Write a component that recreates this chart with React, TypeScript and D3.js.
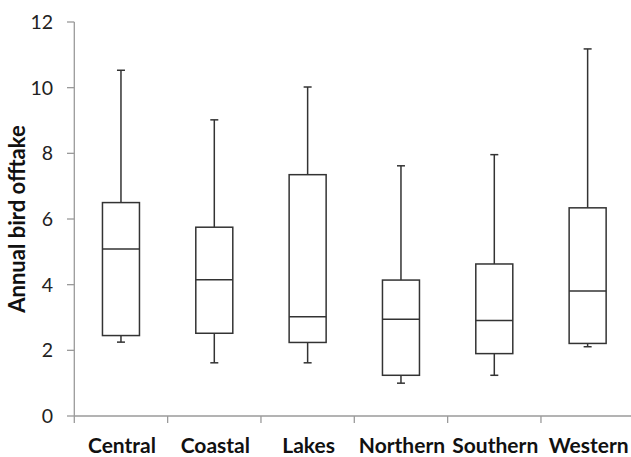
import React from "react";
import * as d3 from "d3";

const categories = ["Central", "Coastal", "Lakes", "Northern", "Southern", "Western"];
const mins = [2.25, 1.62, 1.62, 1.0, 1.24, 2.11];
const q1s = [2.45, 2.52, 2.24, 1.24, 1.9, 2.21];
const medians = [5.09, 4.15, 3.02, 2.95, 2.91, 3.81];
const q3s = [6.5, 5.75, 7.35, 4.14, 4.63, 6.34];
const maxs = [10.53, 9.02, 10.02, 7.62, 7.96, 11.18];
const yTicks = [0, 2, 4, 6, 8, 10, 12];
const yLabel = "Annual bird offtake";

const W = 631, H = 457;
const FONT = "Lato, 'Open Sans', sans-serif";

export default function App() {
  const x = d3.scaleBand().domain(categories).range([74.3, 634.3]).padding(0);
  const y = d3.scaleLinear().domain([0, 12]).range([416, 22]);
  const boxW = 37;
  const capW = 8;
  const stroke = "#333";
  const axisColor = "#9a9a9a";

  return (
    <svg width={W} height={H} style={{ position: "absolute", left: 0, top: 0, background: "#fff" }}>
      {/* y axis */}
      <line x1={74.3} x2={74.3} y1={y(12)} y2={y(0)} stroke={axisColor} strokeWidth={1.3} />
      {yTicks.map((t) => (
        <g key={t}>
          <line x1={67} x2={74.3} y1={y(t)} y2={y(t)} stroke={axisColor} strokeWidth={1.3} />
          <text x={53} y={y(t)} dy="0.36em" textAnchor="end" fontFamily={FONT} fontSize={19.5} fill="#222">
            {t}
          </text>
        </g>
      ))}
      {/* x axis */}
      <line x1={74.3} x2={W} y1={y(0)} y2={y(0)} stroke={axisColor} strokeWidth={1.3} />
      {categories.map((c, i) => (
        <line key={"xt" + i} x1={x(c)!} x2={x(c)!} y1={y(0)} y2={y(0) + 7} stroke={axisColor} strokeWidth={1.3} />
      ))}
      {categories.map((c) => (
        <text key={"xl" + c} x={x(c)! + x.bandwidth() / 2 + 1} y={453} textAnchor="middle" fontFamily={FONT} fontWeight="bold" fontSize={21} fill="#111">
          {c}
        </text>
      ))}
      {/* y label */}
      <text transform={`translate(25, ${219}) rotate(-90)`} textAnchor="middle" fontFamily={FONT} fontWeight="bold" fontSize={22} fill="#111">
        {yLabel}
      </text>
      {/* boxes */}
      {categories.map((c, i) => {
        const cx = x(c)! + x.bandwidth() / 2;
        return (
          <g key={"b" + c} stroke={stroke} strokeWidth={1.5} fill="none">
            <line x1={cx} x2={cx} y1={y(maxs[i])} y2={y(q3s[i])} />
            <line x1={cx} x2={cx} y1={y(q1s[i])} y2={y(mins[i])} />
            <line x1={cx - capW / 2} x2={cx + capW / 2} y1={y(maxs[i])} y2={y(maxs[i])} />
            <line x1={cx - capW / 2} x2={cx + capW / 2} y1={y(mins[i])} y2={y(mins[i])} />
            <rect x={cx - boxW / 2} y={y(q3s[i])} width={boxW} height={y(q1s[i]) - y(q3s[i])} fill="#fff" />
            <line x1={cx - boxW / 2} x2={cx + boxW / 2} y1={y(medians[i])} y2={y(medians[i])} />
          </g>
        );
      })}
    </svg>
  );
}
